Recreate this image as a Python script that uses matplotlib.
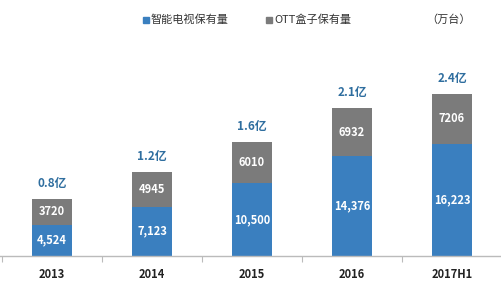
import matplotlib
matplotlib.use("Agg")
import matplotlib.pyplot as plt
from matplotlib.patches import Rectangle

plt.rcParams['font.family'] = ['Noto Sans CJK SC', 'DejaVu Sans']

years = ["2013", "2014", "2015", "2016", "2017H1"]
smart_tv = [4524, 7123, 10500, 14376, 16223]
ott_box = [3720, 4945, 6010, 6932, 7206]
smart_tv_labels = ["4,524", "7,123", "10,500", "14,376", "16,223"]
ott_labels = ["3720", "4945", "6010", "6932", "7206"]
total_labels = ["0.8亿", "1.2亿", "1.6亿", "2.1亿", "2.4亿"]

BLUE = "#3a7fbf"
GRAY = "#7b7b7b"
TOTAL_COLOR = "#2f6e9f"


def main():
    fig = plt.figure(figsize=(5.01, 2.83), dpi=100)
    ax = fig.add_axes([0.0, 27 / 283, 1.0, 0.80])
    x = list(range(len(years)))

    ax.bar(x, smart_tv, width=0.4, color=BLUE, zorder=2)
    ax.bar(x, ott_box, width=0.4, bottom=smart_tv, color=GRAY, zorder=2)

    for i in x:
        ax.text(i, smart_tv[i] / 2, smart_tv_labels[i], color="white", fontsize=8,
                fontweight="bold", ha="center", va="center", zorder=3)
        ax.text(i, smart_tv[i] + ott_box[i] / 2, ott_labels[i], color="white", fontsize=8,
                fontweight="bold", ha="center", va="center", zorder=3)
        ax.text(i, smart_tv[i] + ott_box[i] + 1300, total_labels[i], color=TOTAL_COLOR,
                fontsize=8.5, fontweight="bold", ha="center", va="bottom", zorder=3)

    ax.set_xlim(-0.52, 4.49)
    ax.set_ylim(0, 32700)
    for side in ["top", "right", "left"]:
        ax.spines[side].set_visible(False)
    ax.spines["bottom"].set_color("#bbbbbb")
    ax.spines["bottom"].set_linewidth(1.0)
    ax.set_yticks([])
    ax.set_xticks([i + 0.5 for i in x[:-1]] + [-0.5])
    ax.set_xticklabels([])
    ax.tick_params(axis="x", length=4, color="#bbbbbb", direction="out")
    for i in x:
        ax.text(i, -1700, years[i], fontsize=8, fontweight="bold", ha="center", va="top",
                color="#222222")

    # legend at the top
    fig.patches.append(Rectangle((143 / 501, 1 - 23 / 283), 6 / 501, 6 / 283,
                                 transform=fig.transFigure, color=BLUE))
    fig.text(151 / 501, 1 - 20 / 283, "智能电视保有量", fontsize=8, va="center", color="#333333")
    fig.patches.append(Rectangle((266 / 501, 1 - 23 / 283), 6 / 501, 6 / 283,
                                 transform=fig.transFigure, color=GRAY))
    fig.text(274 / 501, 1 - 20 / 283, "OTT盒子保有量", fontsize=8, va="center", color="#333333")
    fig.text(426 / 501, 1 - 20 / 283, "（万台）", fontsize=8, va="center", color="#333333")

    fig.savefig("out.png", dpi=100)


if __name__ == "__main__":
    main()
